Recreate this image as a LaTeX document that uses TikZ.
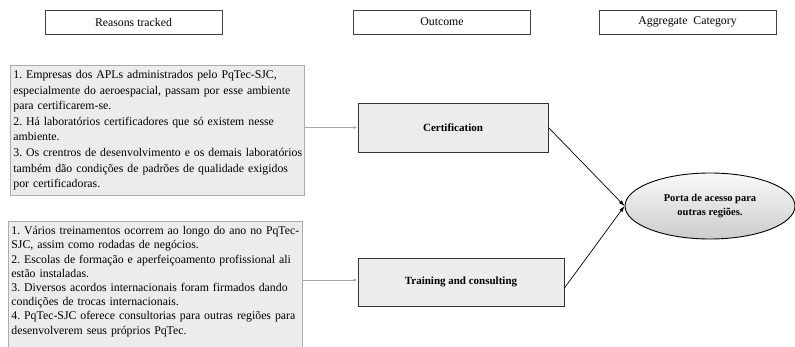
\documentclass[tikz,border=0pt]{standalone}
\usepackage{fontspec}
\setmainfont{Liberation Serif}
\usetikzlibrary{arrows.meta, shapes.geometric}
\frenchspacing

\begin{document}
\begin{tikzpicture}[x=1pt, y=-1pt,
                        every node/.style={font=\fontsize{11.8}{15.6}\selectfont},
                        header/.style={rectangle, draw=black!75, line width=0.8pt, minimum width=177pt, minimum height=24pt},
                        reasons/.style={rectangle, draw=gray!65, fill=gray!15, line width=0.8pt, align=left, text width=288pt, inner xsep=3pt, inner ysep=5pt, anchor=north west},
                        outcome/.style={rectangle, draw=black!80, fill=gray!15, line width=0.9pt, minimum height=49pt, font=\fontsize{11}{15.6}\selectfont\bfseries},
                        category/.style={ellipse, draw=black, line width=0.9pt, top color=gray!5, bottom color=gray!40, minimum width=170pt, minimum height=66pt, inner sep=0pt, align=center, font=\fontsize{10.5}{14.5}\selectfont\bfseries},
                        grey arrow/.style={draw=gray!70, line width=0.8pt, -{Latex[length=4pt, width=3pt]}},
                        black arrow/.style={draw=black, line width=0.7pt, -{Latex[length=6pt, width=4pt]}}
                    ]

    % keep the page the size of the figure
    \useasboundingbox (0,0) rectangle (795,347);
    \clip (0,0) rectangle (795,347);

    % Column titles
    \node[header] (H1) at (133.5, 22) {Reasons tracked};
    \node[header] (H2) at (442, 22) {Outcome};
    \node[header] (H3) at (687.5, 22) {Aggregate\ \ Category};

    % Reasons
    \node[reasons] (R1) at (10, 65) {1. Empresas dos APLs administrados pelo PqTec-SJC,\\
        especialmente do aeroespacial, passam por esse ambiente\\
        para certificarem-se.\\
        2. Há laboratórios certificadores que só existem nesse\\
        ambiente.\\
        \mbox{3. Os crentros de desenvolvimento e os demais laboratórios}\\
        também dão condições de padrões de qualidade exigidos\\
        por certificadoras.};
    \node[reasons, font=\fontsize{11.8}{14.2}\selectfont] (R2) at (8, 221) {\mbox{1. Vários treinamentos ocorrem ao longo do ano no PqTec-}\\
        SJC, assim como rodadas de negócios.\\
        2. Escolas de formação e aperfeiçoamento profissional ali\\
        estão instaladas.\\
        3. Diversos acordos internacionais foram firmados dando\\
        condições de trocas internacionais.\\
        \mbox{4. PqTec-SJC oferece consultorias para outras regiões para}\\
        desenvolverem seus próprios PqTec.\\[20pt]\mbox{}};

    % Outcomes
    \node[outcome, minimum width=190pt] (O1) at (453, 127.5) {Certification};
    \node[outcome, minimum width=206pt, minimum height=48pt] (O2) at (461, 282) {Training and consulting};

    % Aggregate category
    \node[category] (C1) at (710, 206) {Porta de acesso para\\outras regiões.};

    % Edges between nodes
    \draw[grey arrow] (O1.west -| R1.east) -- (O1.west);
    \draw[grey arrow] ([yshift=2pt]O2.west -| R2.east) -- ([yshift=2pt]O2.west);
    \draw[black arrow] (O1.east) -- (C1.west);
    \draw[black arrow] ([yshift=-6pt]O2.east) -- (C1.west);

\end{tikzpicture}
\end{document}
